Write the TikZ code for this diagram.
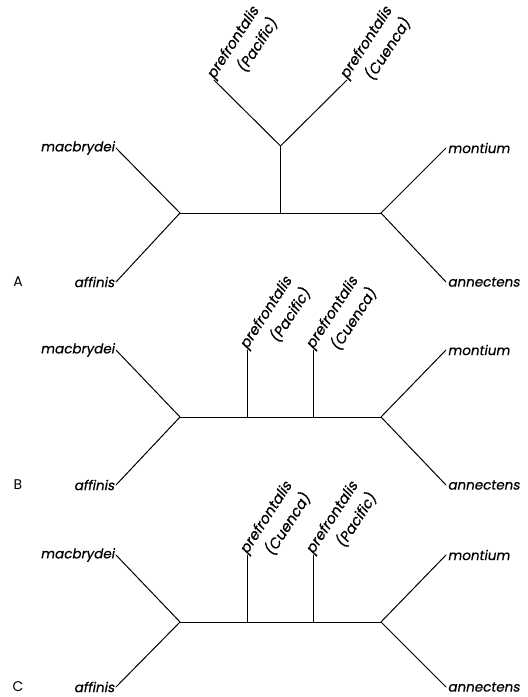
\documentclass[tikz,border=0pt]{standalone}
\usepackage{fontspec}
\setmainfont{Poppins}
\newfontfamily\taxonfont{Poppins}[FakeSlant=0.18, FakeBold=0.6]
\usetikzlibrary{positioning}

\begin{document}
\begin{tikzpicture}[
    x=1pt, y=-1pt,
    branch/.style={line width=1pt, line cap=round},
    taxon/.style={font=\taxonfont\fontsize{13.5}{15}\selectfont, inner sep=1.5pt},
    clade/.style={taxon, font=\taxonfont\fontsize{14.5}{16}\selectfont,
      rotate=57, anchor=base west, inner sep=0pt},
    panel/.style={font=\fontsize{14}{16}\selectfont, inner sep=0pt}
  ]
  \useasboundingbox (0,0) rectangle (528,697);

  % A: the two prefrontalis populations joined first
  \coordinate (leftA) at (180,213);
  \coordinate (rightA) at (381,213);
  \coordinate (midA) at (280.5,213);
  \coordinate (forkA) at (280.5,146);
  \node[taxon, anchor=east] (macA) at (116,148) {macbrydei};
  \node[taxon, anchor=east] (affA) at (116,282) {affinis};
  \node[taxon, anchor=west] (monA) at (446,148) {montium};
  \node[taxon, anchor=west] (annA) at (446,282) {annectens};
  \node[clade] (pacA) at (214,80)
    {\begin{tabular}[t]{@{}r@{}}prefrontalis\\[4pt](Pacific)\end{tabular}};
  \node[clade] (cueA) at (347,80)
    {\begin{tabular}[t]{@{}r@{}}prefrontalis\\[4pt](Cuenca)\end{tabular}};
  \node[panel] (labA) at (18,282) {A};

  \draw[branch] (leftA) -- (rightA);
  \draw[branch] (midA) -- (forkA);
  \draw[branch] (forkA) -- (pacA.base west);
  \draw[branch] (forkA) -- (cueA.base west);
  \draw[branch] (leftA) -- (macA.east);
  \draw[branch] (leftA) -- (affA.east);
  \draw[branch] (rightA) -- (monA.west);
  \draw[branch] (rightA) -- (annA.west);

  % B: Pacific next to macbrydei + affinis
  \coordinate (leftB) at (180,417);
  \coordinate (rightB) at (381,417);
  \coordinate (midB1) at (247,417);
  \coordinate (midB2) at (313,417);
  \node[taxon, anchor=east] (macB) at (116,350) {macbrydei};
  \node[taxon, anchor=east] (affB) at (116,485) {affinis};
  \node[taxon, anchor=west] (monB) at (446,350) {montium};
  \node[taxon, anchor=west] (annB) at (446,485) {annectens};
  \node[clade] (pacB) at (247,350)
    {\begin{tabular}[t]{@{}r@{}}prefrontalis\\[4pt](Pacific)\end{tabular}};
  \node[clade] (cueB) at (313,350)
    {\begin{tabular}[t]{@{}r@{}}prefrontalis\\[4pt](Cuenca)\end{tabular}};
  \node[panel] (labB) at (18,485) {B};

  \draw[branch] (leftB) -- (rightB);
  \draw[branch] (midB1) -- (pacB.base west);
  \draw[branch] (midB2) -- (cueB.base west);
  \draw[branch] (leftB) -- (macB.east);
  \draw[branch] (leftB) -- (affB.east);
  \draw[branch] (rightB) -- (monB.west);
  \draw[branch] (rightB) -- (annB.west);

  % C: Cuenca next to macbrydei + affinis
  \coordinate (leftC) at (180,622);
  \coordinate (rightC) at (381,622);
  \coordinate (midC1) at (247,622);
  \coordinate (midC2) at (313,622);
  \node[taxon, anchor=east] (macC) at (116,555) {macbrydei};
  \node[taxon, anchor=east] (affC) at (116,687) {affinis};
  \node[taxon, anchor=west] (monC) at (446,555) {montium};
  \node[taxon, anchor=west] (annC) at (446,687) {annectens};
  \node[clade] (cueC) at (247,555)
    {\begin{tabular}[t]{@{}r@{}}prefrontalis\\[4pt](Cuenca)\end{tabular}};
  \node[clade] (pacC) at (313,555)
    {\begin{tabular}[t]{@{}r@{}}prefrontalis\\[4pt](Pacific)\end{tabular}};
  \node[panel] (labC) at (18,687) {C};

  \draw[branch] (leftC) -- (rightC);
  \draw[branch] (midC1) -- (cueC.base west);
  \draw[branch] (midC2) -- (pacC.base west);
  \draw[branch] (leftC) -- (macC.east);
  \draw[branch] (leftC) -- (affC.east);
  \draw[branch] (rightC) -- (monC.west);
  \draw[branch] (rightC) -- (annC.west);
\end{tikzpicture}
\end{document}
